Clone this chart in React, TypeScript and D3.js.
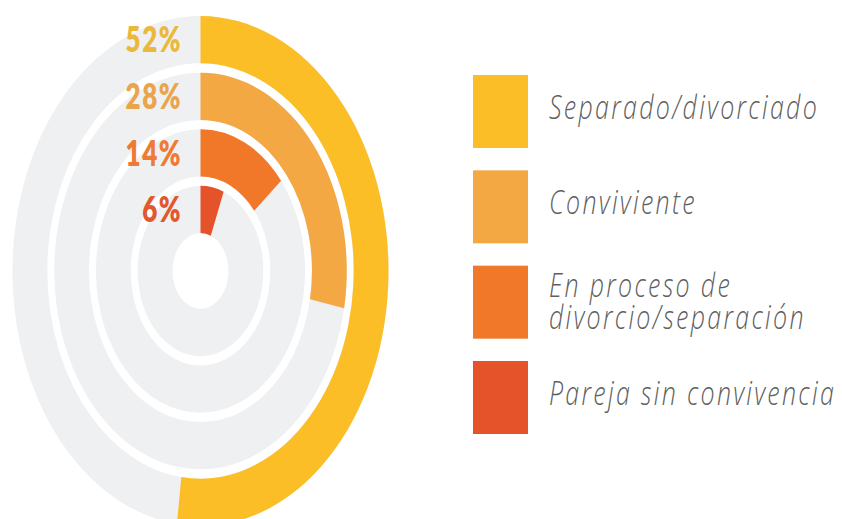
import React from "react";
import * as d3 from "d3";

const categories = [
  "Separado/divorciado",
  "Conviviente",
  "En proceso de divorcio/separación",
  "Pareja sin convivencia",
];
const legendLines = [
  ["Separado/divorciado"],
  ["Conviviente"],
  ["En proceso de", "divorcio/separación"],
  ["Pareja sin convivencia"],
];
const values = [52, 28, 14, 6];
const valueLabels = ["52%", "28%", "14%", "6%"];
const barColors = ["#FBBE27", "#F4A843", "#F27829", "#E4532A"];
const labelColors = ["#EBB83C", "#E9A44C", "#EE7A33", "#E0582C"];

const W = 842;
const H = 519;
const SY = 1.356;
const CX = 200.5;
const CY = 271;

export default function App() {
  const ring = d3.scaleBand<number>().domain(d3.range(values.length)).range([188, 28]).paddingInner(0.165);
  const bw = ring.bandwidth();
  const angle = d3.scaleLinear().domain([0, 100]).range([0, 2 * Math.PI]);
  const arc = d3.arc<any>();

  const legendY = d3.scaleLinear().domain([0, 3]).range([111.5, 397.5]);

  return (
    <svg
      width={W}
      height={H}
      style={{ position: "absolute", left: 0, top: 0, display: "block", background: "#fff" }}
    >
      <g transform={`translate(${CX},${CY}) scale(1,${SY})`}>
        {values.map((v, i) => {
          const inner = ring(i)!;
          const outer = inner + bw;
          return (
            <g key={i}>
              <path
                d={arc({ innerRadius: inner, outerRadius: outer, startAngle: 0, endAngle: 2 * Math.PI })!}
                fill="#EFF0F2"
              />
              <path
                d={arc({ innerRadius: inner, outerRadius: outer, startAngle: 0, endAngle: angle(v) })!}
                fill={barColors[i]}
              />
              <text
                x={-18.5}
                y={-(outer - bw / 2)}
                dy="0.36em"
                textAnchor="end"
                fill={labelColors[i]}
                style={{
                  fontFamily: "Lato, 'Open Sans', sans-serif",
                  fontWeight: 800,
                  fontSize: 26,
                  letterSpacing: 1.5,
                }}
              >
                {valueLabels[i]}
              </text>
            </g>
          );
        })}
      </g>
      {categories.map((c, i) => {
        const cy = legendY(i);
        const lines = legendLines[i];
        return (
          <g key={c} transform={`translate(0,${cy}) scale(1,${SY})`}>
            <rect x={473} y={-36.5 / SY} width={55} height={73 / SY} fill={barColors[i]} />
            {lines.map((t, j) => (
              <text
                key={j}
                x={549}
                y={(lines.length === 1 ? 7 : j === 0 ? -5.5 : 26.5) / SY}
                fill="#5f5f5f"
                style={{
                  fontFamily: "'Open Sans', Lato, sans-serif",
                  fontWeight: 300,
                  fontStyle: "italic",
                  fontSize: 25,
                  letterSpacing: 2.3,
                }}
              >
                {t}
              </text>
            ))}
          </g>
        );
      })}
    </svg>
  );
}
